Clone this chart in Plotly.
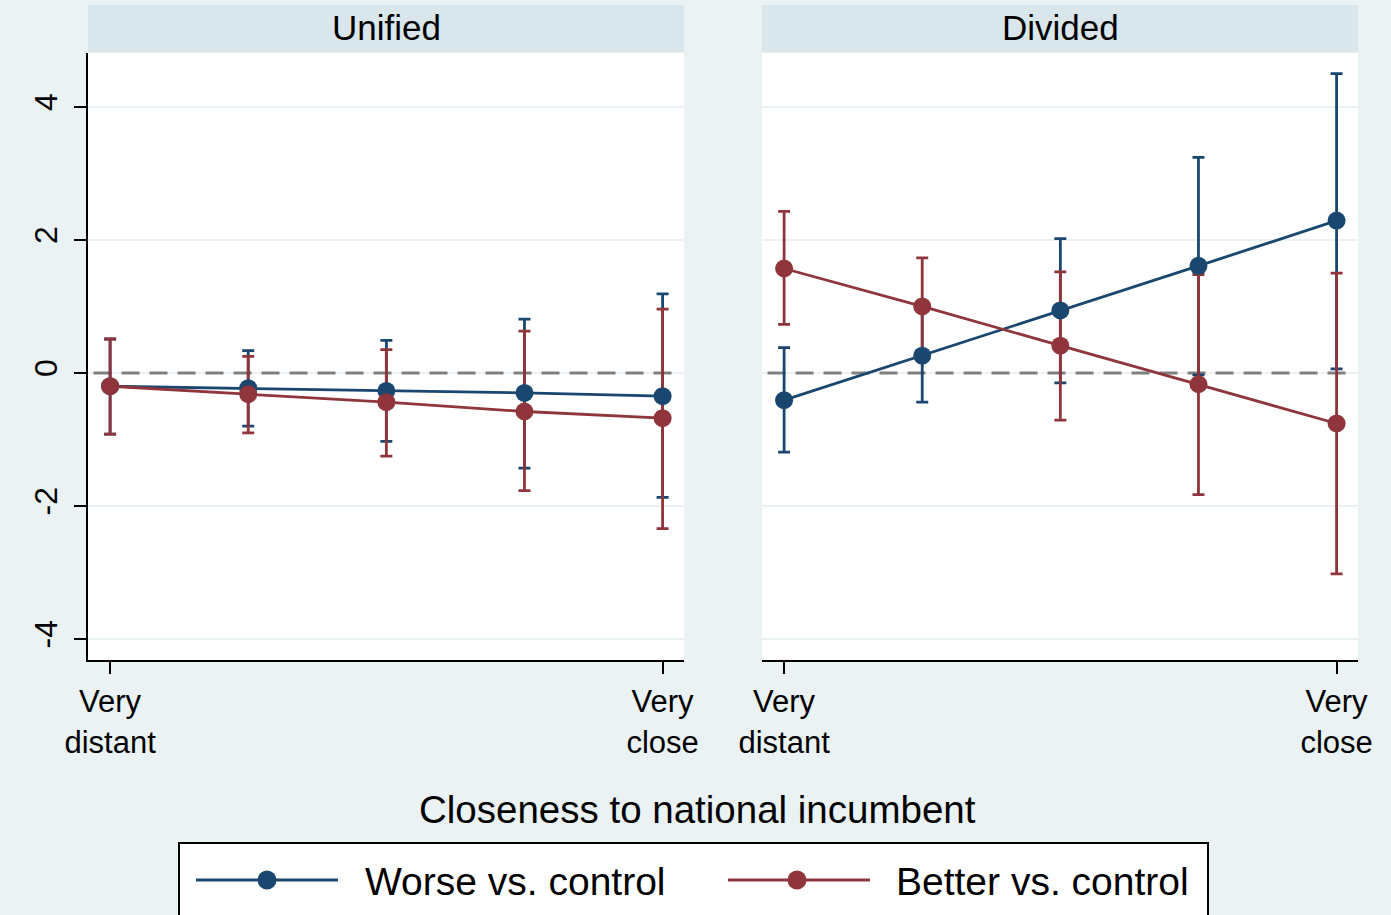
import numpy as np
import plotly.graph_objects as go

# Closeness categories (1 = very distant ... 5 = very close)
closeness = [1, 2, 3, 4, 5]
tick_vals = [1, 5]
tick_text = ["Very<br>distant", "Very<br>close"]
panels = ["Unified", "Divided"]
series_names = ["Worse vs. control", "Better vs. control"]

# Point estimates and 95% confidence bounds
unified_worse = [-0.20, -0.23, -0.27, -0.30, -0.35]
unified_worse_lo = [-0.92, -0.80, -1.03, -1.43, -1.87]
unified_worse_hi = [0.51, 0.335, 0.49, 0.81, 1.19]

unified_better = [-0.20, -0.32, -0.44, -0.58, -0.68]
unified_better_lo = [-0.92, -0.90, -1.25, -1.77, -2.34]
unified_better_hi = [0.51, 0.25, 0.35, 0.63, 0.96]

divided_worse = [-0.41, 0.26, 0.94, 1.61, 2.29]
divided_worse_lo = [-1.19, -0.44, -0.15, -0.03, 0.06]
divided_worse_hi = [0.38, 0.96, 2.02, 3.24, 4.50]

divided_better = [1.57, 1.00, 0.41, -0.17, -0.76]
divided_better_lo = [0.73, 0.27, -0.71, -1.83, -3.02]
divided_better_hi = [2.43, 1.73, 1.52, 1.48, 1.50]

y_ticks = [-4, -2, 0, 2, 4]

NAVY = "#1A476F"
MAROON = "#90353B"
BG = "#EAF2F3"
STRIP = "#D9E6EB"
FONT = "Liberation Sans, Arial, sans-serif"

W, H = 1391, 915


def px_x(v):
    return v / W


def px_y(v):
    return 1 - v / H


fig = go.Figure()

panel_data = [
    [(unified_worse, unified_worse_lo, unified_worse_hi, NAVY),
     (unified_better, unified_better_lo, unified_better_hi, MAROON)],
    [(divided_worse, divided_worse_lo, divided_worse_hi, NAVY),
     (divided_better, divided_better_lo, divided_better_hi, MAROON)],
]

for p, series in enumerate(panel_data):
    xa = "x" if p == 0 else "x2"
    ya = "y" if p == 0 else "y2"
    # zero reference line, under everything else in the panel
    fig.add_trace(go.Scatter(
        x=[0.88, 5.13], y=[0, 0], xaxis=xa, yaxis=ya, mode="lines",
        line=dict(color="#808080", width=3, dash="18px,10px"),
        showlegend=False, hoverinfo="skip",
    ))
    # capped spikes first
    for est, lo, hi, col in series:
        est_a, lo_a, hi_a = np.array(est), np.array(lo), np.array(hi)
        fig.add_trace(go.Scatter(
            x=closeness, y=est, xaxis=xa, yaxis=ya, mode="markers",
            marker=dict(size=1, opacity=0, color=col), showlegend=False,
            hoverinfo="skip",
            error_y=dict(type="data", symmetric=False,
                         array=hi_a - est_a, arrayminus=est_a - lo_a,
                         color=col, thickness=2.8, width=6),
        ))
    # connected estimates on top
    for (est, lo, hi, col), name in zip(series, series_names):
        fig.add_trace(go.Scatter(
            x=closeness, y=est, xaxis=xa, yaxis=ya, mode="lines+markers",
            name=name, line=dict(color=col, width=2.8),
            marker=dict(size=18, color=col), showlegend=False,
        ))

x_dom = [[px_x(88), px_x(684)], [px_x(762), px_x(1358)]]
y_dom = [px_y(660), px_y(53)]
y_range = [-4.316, 4.81]
x_range = [0.84, 5.155]

axis_common = dict(range=x_range, tickvals=tick_vals, ticktext=tick_text,
                   showgrid=False, zeroline=False, showline=True,
                   linecolor="black", linewidth=2, ticks="outside",
                   ticklen=12, tickwidth=1.5, tickcolor="black",
                   tickfont=dict(family=FONT, size=31, color="black"),
                   ticklabelstandoff=1, automargin=False)

fig.update_layout(
    width=W, height=H,
    margin=dict(l=0, r=0, t=0, b=0),
    paper_bgcolor=BG, plot_bgcolor="white",
    showlegend=False,
    xaxis=dict(domain=x_dom[0], anchor="y", **axis_common),
    xaxis2=dict(domain=x_dom[1], anchor="y2", **axis_common),
    yaxis=dict(domain=y_dom, anchor="x", range=y_range, tickvals=y_ticks,
               ticktext=[str(t) for t in y_ticks], tickangle=-90,
               showgrid=True, gridcolor=BG, gridwidth=2, zeroline=False,
               showline=True, linecolor="black", linewidth=2,
               ticks="outside", ticklen=12, tickwidth=1.5, tickcolor="black",
               tickfont=dict(family=FONT, size=32, color="black"),
               ticklabelstandoff=4, automargin=False),
    yaxis2=dict(domain=y_dom, anchor="x2", range=y_range, tickvals=y_ticks,
                showticklabels=False, showgrid=True, gridcolor=BG,
                gridwidth=2, zeroline=False, showline=False, ticks="",
                automargin=False),
)

shapes = []
annotations = []
for p, title in enumerate(panels):
    # panel strip header
    shapes.append(dict(type="rect", xref="paper", yref="paper",
                       x0=x_dom[p][0], x1=x_dom[p][1],
                       y0=px_y(52), y1=px_y(5),
                       fillcolor=STRIP, line=dict(width=0), layer="below"))
    annotations.append(dict(text=title, xref="paper", yref="paper",
                            x=(x_dom[p][0] + x_dom[p][1]) / 2, y=px_y(28),
                            xanchor="center", yanchor="middle",
                            showarrow=False,
                            font=dict(family=FONT, size=35, color="black")))

# common x title
annotations.append(dict(text="Closeness to national incumbent",
                        xref="paper", yref="paper", x=px_x(697), y=px_y(809),
                        xanchor="center", yanchor="middle", showarrow=False,
                        font=dict(family=FONT, size=38.5, color="black")))

# legend box
shapes.append(dict(type="rect", xref="paper", yref="paper",
                   x0=px_x(179), x1=px_x(1208), y0=px_y(930), y1=px_y(843),
                   fillcolor="white", line=dict(color="black", width=2)))
legend_items = [(NAVY, 196, 338, 267, 363), (MAROON, 728, 870, 797, 894)]
for (col, lx0, lx1, mx, tx), name in zip(legend_items, series_names):
    shapes.append(dict(type="line", xref="paper", yref="paper",
                       x0=px_x(lx0), x1=px_x(lx1), y0=px_y(880), y1=px_y(880),
                       line=dict(color=col, width=3)))
    shapes.append(dict(type="circle", xref="paper", yref="paper",
                       xsizemode="pixel", ysizemode="pixel",
                       xanchor=px_x(mx), yanchor=px_y(880),
                       x0=-9.5, x1=9.5, y0=-9.5, y1=9.5,
                       fillcolor=col, line=dict(color=col, width=0)))
    annotations.append(dict(text=name, xref="paper", yref="paper",
                            x=px_x(tx), y=px_y(881), xanchor="left",
                            yanchor="middle", showarrow=False,
                            font=dict(family=FONT, size=39, color="black")))

fig.update_layout(shapes=shapes, annotations=annotations)

fig.write_html("out.html")
